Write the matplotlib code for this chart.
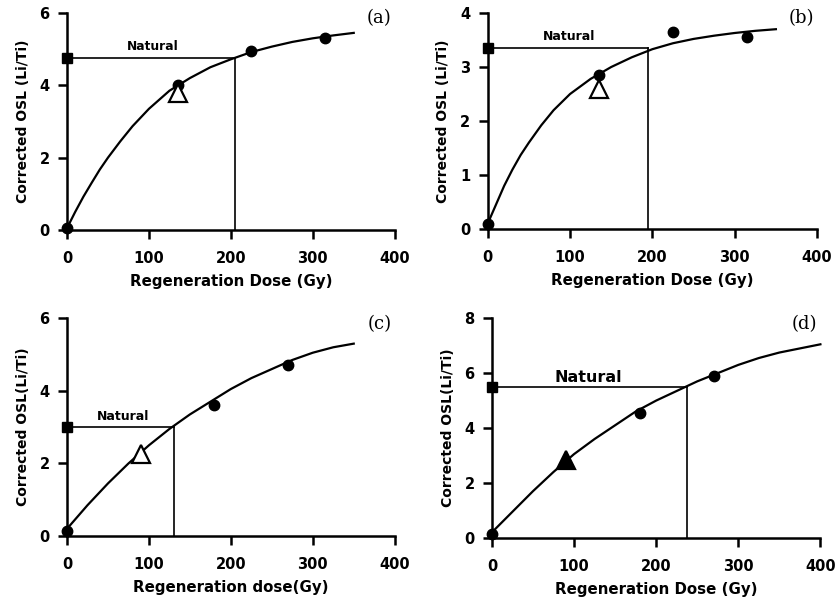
import matplotlib.pyplot as plt

# dose-response data
dose_curve_ab = [0, 10, 20, 30, 40, 50, 65, 80, 100, 125, 150, 175, 200, 225, 250,
                 275, 300, 325, 350]
curve_a = [0.05, 0.5, 0.92, 1.3, 1.67, 2.0, 2.45, 2.87, 3.35, 3.85, 4.2, 4.5, 4.72,
           4.92, 5.07, 5.2, 5.3, 5.38, 5.45]
curve_b = [0.1, 0.45, 0.8, 1.1, 1.37, 1.6, 1.92, 2.2, 2.5, 2.78, 3.0, 3.18, 3.33,
           3.44, 3.52, 3.58, 3.63, 3.67, 3.7]

dose_curve_c = [0, 25, 50, 75, 100, 125, 150, 175, 200, 225, 250, 275, 300, 325, 350]
curve_c = [0.2, 0.85, 1.45, 2.0, 2.5, 2.95, 3.35, 3.7, 4.05, 4.35, 4.6, 4.85, 5.05, 5.2, 5.3]

dose_curve_d = [0, 25, 50, 75, 100, 125, 150, 175, 200, 225, 250, 275, 300, 325, 350,
                375, 400]
curve_d = [0.2, 0.95, 1.7, 2.4, 3.05, 3.6, 4.1, 4.6, 5.0, 5.35, 5.7, 6.0, 6.3, 6.55,
           6.75, 6.9, 7.05]

regen_dose_a = [0, 135, 225, 315]
regen_osl_a = [0.05, 4.0, 4.95, 5.3]
regen_dose_b = [0, 135, 225, 315]
regen_osl_b = [0.1, 2.85, 3.65, 3.55]
regen_dose_c = [0, 180, 270]
regen_osl_c = [0.15, 3.6, 4.7]
regen_dose_d = [0, 180, 270]
regen_osl_d = [0.15, 4.55, 5.9]

recycle_a = (135, 3.8)
recycle_b = (135, 2.6)
recycle_c = (90, 2.25)
recycle_d = (90, 2.85)

natural = [4.75, 3.35, 3.0, 5.5]
de = [205, 195, 130, 238]
ymax = [6, 4, 6, 8]
yticks = [[0, 2, 4, 6], [0, 1, 2, 3, 4], [0, 2, 4, 6], [0, 2, 4, 6, 8]]
xlabels = ['Regeneration Dose (Gy)', 'Regeneration Dose (Gy)',
           'Regeneration dose(Gy)', 'Regeneration Dose (Gy)']
ylabels = ['Corrected OSL (Li/Ti)', 'Corrected OSL (Li/Ti)',
           'Corrected OSL(Li/Ti)', 'Corrected OSL(Li/Ti)']
panel = ['(a)', '(b)', '(c)', '(d)']
natural_pos = [(105, 5.06, 8.8), (99, 3.56, 9), (68, 3.28, 9), (118, 5.85, 11.5)]

fig = plt.figure(figsize=(8.38, 6.05), dpi=100)
rects = [[0.080, 0.620, 0.391, 0.3585],
         [0.582, 0.6215, 0.393, 0.357],
         [0.080, 0.114, 0.391, 0.360],
         [0.587, 0.111, 0.392, 0.363]]

panels = [
    (dose_curve_ab, curve_a, regen_dose_a, regen_osl_a, recycle_a, False),
    (dose_curve_ab, curve_b, regen_dose_b, regen_osl_b, recycle_b, False),
    (dose_curve_c, curve_c, regen_dose_c, regen_osl_c, recycle_c, False),
    (dose_curve_d, curve_d, regen_dose_d, regen_osl_d, recycle_d, True),
]

for i, (xc, yc, rx, ry, rec, filled_tri) in enumerate(panels):
    ax = fig.add_axes(rects[i])
    ax.plot(xc, yc, color='black', lw=1.6, clip_on=False, zorder=3)
    ax.plot(rx, ry, 'o', color='black', ms=7.5, clip_on=False, zorder=4)
    ax.plot([0], [natural[i]], 's', color='black', ms=7.5, clip_on=False, zorder=4)
    ax.plot([0, de[i]], [natural[i], natural[i]], color='black', lw=1.2, zorder=2)
    ax.plot([de[i], de[i]], [0, natural[i]], color='black', lw=1.2, zorder=2)
    ax.plot([rec[0]], [rec[1]], '^', ms=13, mew=1.6,
            mfc='black' if filled_tri else 'white', mec='black', zorder=5)
    nx, ny, nfs = natural_pos[i]
    ax.text(nx, ny, 'Natural', ha='center', va='center', fontsize=nfs, fontweight='bold')
    ax.text(0.99, 0.975, panel[i], transform=ax.transAxes, ha='right', va='center',
            fontsize=13, family='DejaVu Serif')

    ax.set_xlim(0, 400)
    ax.set_ylim(0, ymax[i])
    ax.set_xticks([0, 100, 200, 300, 400])
    ax.set_yticks(yticks[i])
    for side in ['top', 'right']:
        ax.spines[side].set_visible(False)
    for side in ['left', 'bottom']:
        ax.spines[side].set_linewidth(1.8)
    ax.tick_params(width=1.8, length=6.5, labelsize=10.5)
    ax.tick_params(axis='x', pad=8.5)
    ax.tick_params(axis='y', pad=6)
    for lab in ax.get_xticklabels() + ax.get_yticklabels():
        lab.set_fontweight('bold')
    ax.set_xlabel(xlabels[i], fontsize=10.8, fontweight='bold', labelpad=6)
    ax.set_ylabel(ylabels[i], fontsize=10, fontweight='bold', labelpad=7)

fig.savefig('out.png', dpi=100)
